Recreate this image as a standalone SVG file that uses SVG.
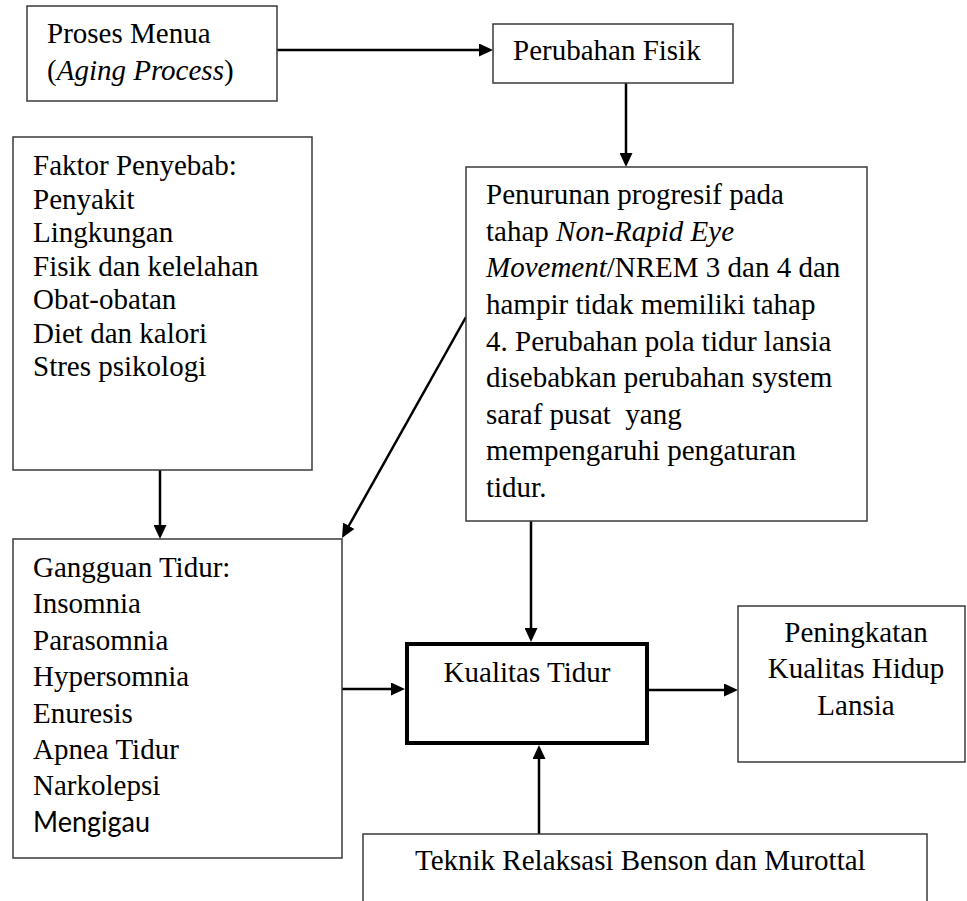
<svg xmlns="http://www.w3.org/2000/svg" width="967" height="901" viewBox="0 0 967 901">
<style>
.box{fill:#fff;stroke:#3a3a3a;stroke-width:1.5}
.bold{fill:#fff;stroke:#000;stroke-width:4}
.t{font-family:"Liberation Serif","Times New Roman",serif;font-size:29px;fill:#000}
.i{font-style:italic}
.s{font-family:Lato,"Open Sans",sans-serif;font-size:28px;fill:#000}
.c{stroke:#000;stroke-width:2.5;fill:none;marker-end:url(#ah)}
</style>
<defs>
<marker id="ah" viewBox="0 0 14 13" refX="6" refY="6.5" markerWidth="14" markerHeight="13" markerUnits="userSpaceOnUse" orient="auto">
<path d="M0,0 L14,6.5 L0,13 z" fill="#000"/>
</marker>
</defs>
<rect width="967" height="901" fill="#fff"/>
<g id="connectors">
<line class="c" x1="277" y1="50" x2="485" y2="50"/>
<line class="c" x1="626" y1="83" x2="626" y2="159"/>
<line class="c" x1="160" y1="470" x2="160" y2="531"/>
<line class="c" x1="466" y1="317" x2="345.9" y2="531"/>
<line class="c" x1="531" y1="521" x2="531" y2="634"/>
<line class="c" x1="342" y1="689" x2="397" y2="689"/>
<line class="c" x1="647" y1="690" x2="730" y2="690"/>
<line class="c" x1="539" y1="834" x2="539" y2="753"/>
</g>
<g id="proses-menua">
<rect class="box" x="27" y="6" width="250" height="95"/>
<text class="t" x="47" y="43">Proses Menua</text>
<text class="t" x="47" y="80">(<tspan class="i">Aging Process</tspan>)</text>
</g>
<g id="perubahan-fisik">
<rect class="box" x="493" y="24" width="240" height="59"/>
<text class="t" x="513" y="60">Perubahan Fisik</text>
</g>
<g id="faktor-penyebab">
<rect class="box" x="13" y="137" width="299" height="333"/>
<text class="t" x="33" y="175">Faktor Penyebab:</text>
<text class="t" x="33" y="208.5">Penyakit</text>
<text class="t" x="33" y="242">Lingkungan</text>
<text class="t" x="33" y="275.5">Fisik dan kelelahan</text>
<text class="t" x="33" y="309">Obat-obatan</text>
<text class="t" x="33" y="342.5">Diet dan kalori</text>
<text class="t" x="33" y="376">Stres psikologi</text>
</g>
<g id="penurunan">
<rect class="box" x="466" y="167" width="401" height="354"/>
<text class="t" x="486" y="204">Penurunan progresif pada</text>
<text class="t" x="486" y="240.6">tahap <tspan class="i">Non-Rapid Eye</tspan></text>
<text class="t" x="486" y="277.2"><tspan class="i">Movement</tspan>/NREM 3 dan 4 dan</text>
<text class="t" x="486" y="313.9">hampir tidak memiliki tahap</text>
<text class="t" x="486" y="350.5">4. Perubahan pola tidur lansia</text>
<text class="t" x="486" y="387.1">disebabkan perubahan system</text>
<text class="t" x="486" y="423.7">saraf pusat&#160; yang</text>
<text class="t" x="486" y="460.4">mempengaruhi pengaturan</text>
<text class="t" x="486" y="497">tidur.</text>
</g>
<g id="gangguan-tidur">
<rect class="box" x="13" y="539" width="329" height="319"/>
<text class="t" x="33" y="577">Gangguan Tidur:</text>
<text class="t" x="33" y="613.4">Insomnia</text>
<text class="t" x="33" y="649.8">Parasomnia</text>
<text class="t" x="33" y="686.2">Hypersomnia</text>
<text class="t" x="33" y="722.6">Enuresis</text>
<text class="t" x="33" y="759">Apnea Tidur</text>
<text class="t" x="33" y="795.4">Narkolepsi</text>
<text class="s" x="33" y="831.8" textLength="117" lengthAdjust="spacingAndGlyphs">Mengigau</text>
</g>
<g id="kualitas-tidur">
<rect class="bold" x="407" y="644" width="240" height="99"/>
<text class="t" x="527" y="682" text-anchor="middle">Kualitas Tidur</text>
</g>
<g id="peningkatan">
<rect class="box" x="738" y="606" width="227" height="156"/>
<text class="t" x="856" y="642" text-anchor="middle">Peningkatan</text>
<text class="t" x="856" y="678" text-anchor="middle">Kualitas Hidup</text>
<text class="t" x="856" y="715" text-anchor="middle">Lansia</text>
</g>
<g id="teknik-relaksasi">
<rect class="box" x="363" y="834" width="564" height="80"/>
<text class="t" x="415" y="870">Teknik Relaksasi Benson dan Murottal</text>
</g>
</svg>
